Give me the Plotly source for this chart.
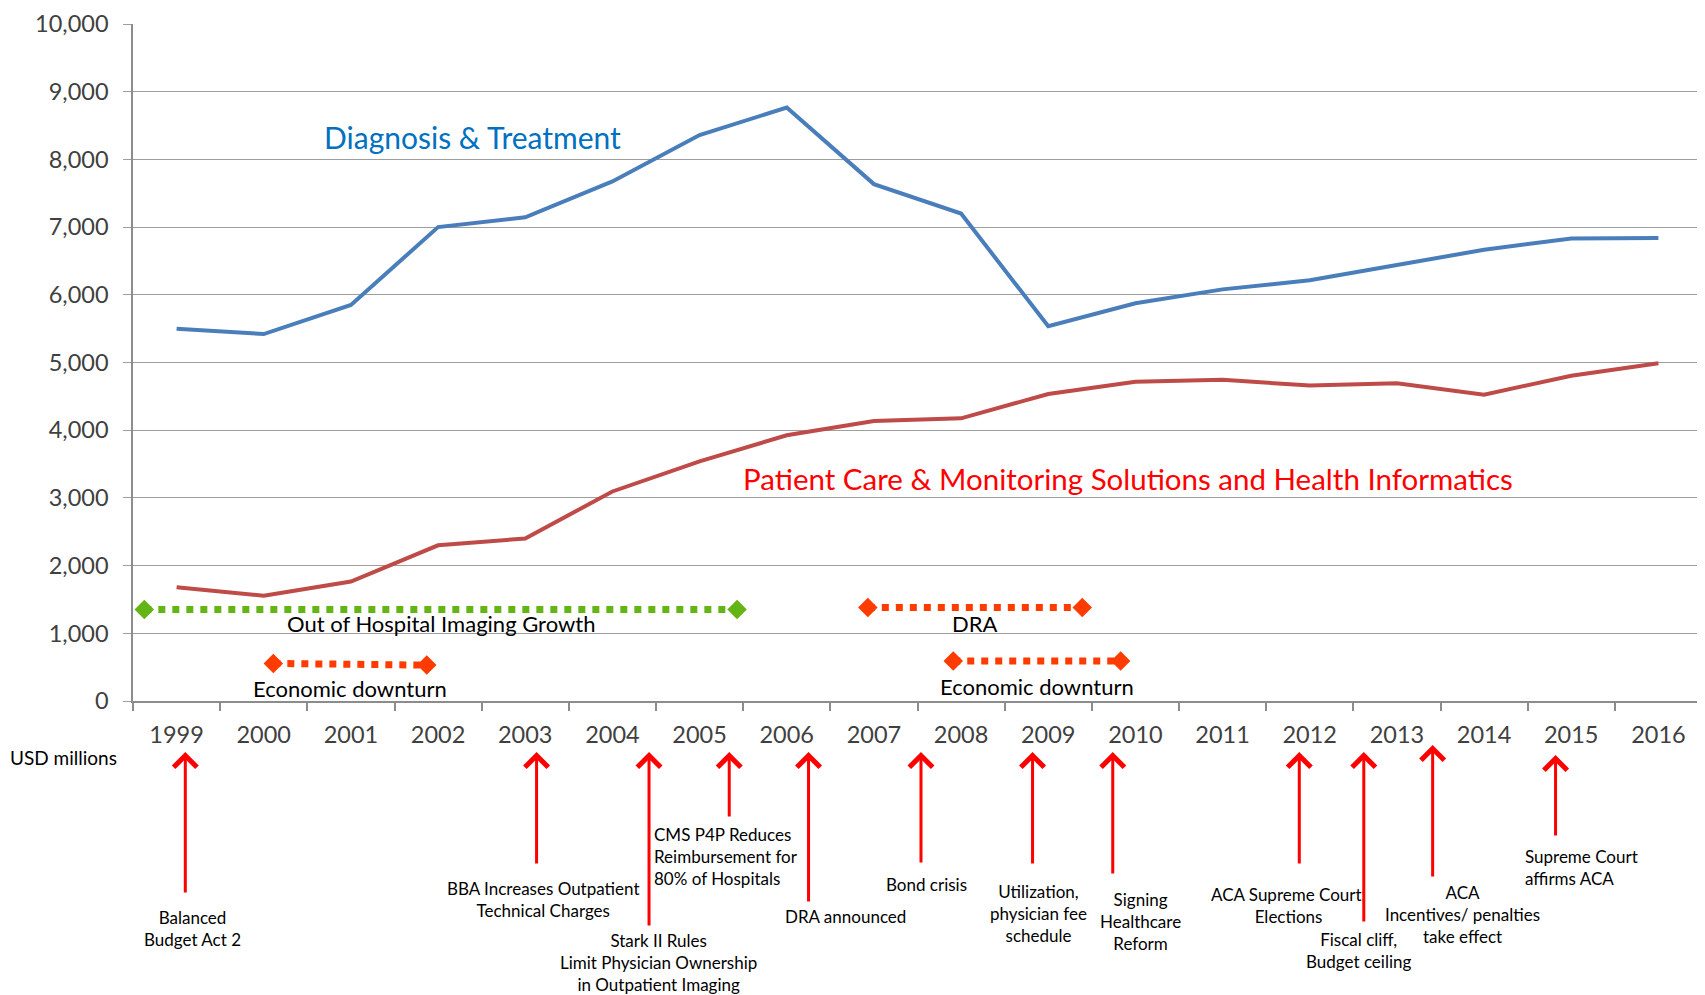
import plotly.graph_objects as go

# data (USD millions)
years = list(range(1999, 2017))
diag_treat = [5500, 5420, 5850, 7000, 7145, 7675, 8360, 8765, 7635, 7200,
              5535, 5875, 6080, 6215, 6440, 6665, 6833, 6840]
patient_care = [1680, 1555, 1765, 2300, 2400, 3095, 3540, 3925, 4135, 4175,
                4535, 4715, 4745, 4660, 4695, 4525, 4805, 4990]

# periods drawn as dotted bars (start / end in years, level in USD millions)
period_names = ["Out of Hospital Imaging Growth", "DRA", "Economic downturn", "Economic downturn"]
period_start = [1998.63, 2006.93, 2000.11, 2007.91]
period_end = [2005.43, 2009.39, 2001.87, 2009.83]
period_level_start = [1350, 1380, 555, 590]
period_level_end = [1350, 1380, 530, 590]
period_colors = ["#62B514", "#FF3B00", "#FF3B00", "#FF3B00"]

# events marked with arrows under the axis
event_years = [1999.10, 2003.13, 2004.42, 2005.34, 2006.25, 2007.54,
               2008.82, 2009.74, 2011.88, 2012.62, 2013.41, 2014.82]
event_labels = [
    "Balanced<br>Budget Act 2",
    "BBA Increases Outpatient<br>Technical Charges",
    "Stark II Rules<br>Limit Physician Ownership<br>in Outpatient Imaging",
    "CMS P4P Reduces<br>Reimbursement for<br>80% of Hospitals",
    "DRA announced",
    "Bond crisis",
    "Utilization,<br>physician fee<br>schedule",
    "Signing<br>Healthcare<br>Reform",
    "ACA Supreme Court;<br>Elections",
    "Fiscal cliff,<br>Budget ceiling",
    "ACA<br>Incentives/ penalties<br>take effect",
    "Supreme Court<br>affirms ACA",
]

W, H = 1705, 995
OFF = 8  # page body margin
M = dict(l=125, r=11, t=16, b=302)
PH = H - M["t"] - M["b"]
PW = W - M["l"] - M["r"]


def py(p):
    # page pixel row -> paper y
    return (H - M["b"] - (p - OFF)) / PH


def yr(px):
    # page pixel column -> year on the x axis
    return 1998.5 + (px - OFF - M["l"]) / PW * 18


# arrow top / bottom rows, label x (px), label centre row, alignment
arrow_layout = [
    (752, 894, 192, 928, "center"),
    (752, 865, 543, 900, "center"),
    (752, 927, 658, 962, "center"),
    (752, 818, 652, 857, "left"),
    (752, 903, 845, 916, "center"),
    (752, 864, 926, 884, "center"),
    (752, 865, 1038, 913, "center"),
    (752, 875, 1140, 921, "center"),
    (752, 865, 1288, 905, "center"),
    (752, 923, 1358, 950, "center"),
    (745, 878, 1462, 914, "center"),
    (755, 837, 1523, 867, "left"),
]

FONT = "Lato"

fig = go.Figure()

fig.add_trace(go.Scatter(x=years, y=diag_treat, mode="lines",
                         line=dict(color="#4A7EBB", width=4), showlegend=False))
fig.add_trace(go.Scatter(x=years, y=patient_care, mode="lines",
                         line=dict(color="#BE4B48", width=4), showlegend=False))

for name, x0, x1, v0, v1, c in zip(period_names, period_start, period_end,
                                   period_level_start, period_level_end, period_colors):
    fig.add_trace(go.Scatter(
        x=[x0, x1], y=[v0, v1], mode="lines+markers",
        line=dict(color=c, width=7, dash="dot"),
        marker=dict(symbol="diamond", size=15, color=c),
        showlegend=False, cliponaxis=False))

annotations = []
shifts = [-14, -16, -24, -25]
for name, x0, x1, v0, v1, s in zip(period_names, period_start, period_end,
                                   period_level_start, period_level_end, shifts):
    annotations.append(dict(x=(x0 + x1) / 2, y=(v0 + v1) / 2, xref="x", yref="y",
                            text=name, showarrow=False, yshift=s,
                            font=dict(family=FONT, size=22, color="#000000")))

annotations.append(dict(x=2002.39, y=8330, xref="x", yref="y", text="Diagnosis & Treatment",
                        showarrow=False, font=dict(family=FONT, size=30, color="#0070C0")))
annotations.append(dict(x=2009.91, y=3290, xref="x", yref="y",
                        text="Patient Care & Monitoring Solutions and Health Informatics",
                        showarrow=False, font=dict(family=FONT, size=29.5, color="#FF0000")))

annotations.append(dict(x=(8 - OFF - M["l"]) / PW, y=py(757), xref="paper", yref="paper",
                        xanchor="left", yanchor="middle", text="USD millions", showarrow=False,
                        font=dict(family=FONT, size=19, color="#000000")))

for ex, label, (top, bot, tx, ty, al) in zip(event_years, event_labels, arrow_layout):
    annotations.append(dict(x=ex, y=py(top), xref="x", yref="paper", text="",
                            showarrow=True, ax=0, ay=bot - top, arrowhead=4,
                            arrowsize=1.5, arrowwidth=3, arrowcolor="#FF0000", standoff=0))
    annotations.append(dict(x=yr(tx), y=py(ty), xref="x", yref="paper", text=label,
                            showarrow=False, align=al, yanchor="middle",
                            xanchor="left" if al == "left" else "center",
                            font=dict(family=FONT, size=17, color="#000000")))

fig.update_layout(
    width=W, height=H,
    margin=dict(M, autoexpand=False),
    paper_bgcolor="white", plot_bgcolor="white",
    font=dict(family=FONT, color="#404040"),
    xaxis=dict(range=[1998.5, 2016.5], tickvals=years, ticks="", automargin=False,
               showline=True, linecolor="#8C8C8C", linewidth=1.5,
               showgrid=False, zeroline=False,
               tickfont=dict(family=FONT, size=23.5, color="#404040"),
               ticklabelstandoff=12, ticklabeloverflow="allow",
               minor=dict(tickmode="linear", tick0=1998.5, dtick=1, ticks="outside",
                          ticklen=8, tickcolor="#8C8C8C", tickwidth=1.5, showgrid=False)),
    yaxis=dict(range=[0, 10000], tickvals=list(range(0, 10001, 1000)), tickformat=",d",
               automargin=False,
               showline=True, linecolor="#8C8C8C", linewidth=1.5,
               showgrid=True, gridcolor="#9E9E9E", gridwidth=1.3, zeroline=False,
               ticks="outside", ticklen=8, tickcolor="#9E9E9E",
               tickfont=dict(family=FONT, size=23.5, color="#404040"),
               ticklabelstandoff=10, ticklabeloverflow="allow"),
    annotations=annotations,
    showlegend=False,
)

fig.write_html("out.html")
